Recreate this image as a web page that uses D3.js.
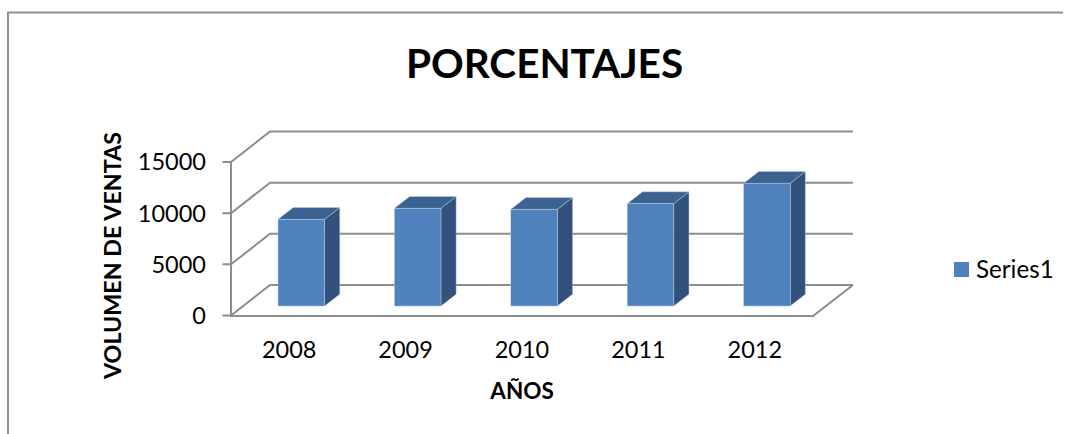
<!DOCTYPE html>
<html><head><meta charset="utf-8">
<script src="https://cdn.jsdelivr.net/npm/d3@7"></script>
<style>html,body{margin:0;padding:0;background:#fff}svg{display:block}text{font-family:Lato,"Open Sans",sans-serif;fill:#000}</style>
</head><body><svg id="c" width="1065" height="434"></svg>
<script>
const categories = ["2008","2009","2010","2011","2012"];
const values = [8470, 9550, 9450, 10000, 11990];
const yTicks = [0, 5000, 10000, 15000];
const seriesName = "Series1";
const titleText = "PORCENTAJES", xTitle = "AÑOS", yTitle = "VOLUMEN DE VENTAS";

const svg = d3.select("#c");
const x = d3.scaleBand().domain(categories).range([231, 813]);
const y = d3.scaleLinear().domain([0, 15000]).range([315.5, 162]);
const DX = 39, DY = -30.5;           // full depth of the floor
const d0 = 0.31, d1 = 0.70;          // bar depth span, as fractions of the floor
const barW = x.bandwidth() * 0.4;
const gridColor = "#8c8c8c", frontColor = "#4f81bd", topColor = "#3c6292", sideColor = "#32527c";
const line = d3.line();

// frame
svg.append("path").attr("d", line([[8, 434], [8, 12.5], [1063, 12.5]]))
  .attr("fill", "none").attr("stroke", "#8f8f8f").attr("stroke-width", 2);

// wall gridlines, side wall and floor
const g = svg.append("g").attr("fill", "none").attr("stroke", gridColor).attr("stroke-width", 2);
const xL = x.range()[0], xR = x.range()[1];
yTicks.forEach(t => {
  g.append("path").attr("d", line([[xL - 8.5, y(t)], [xL, y(t)], [xL + DX, y(t) + DY], [xR + DX + 1, y(t) + DY]]));
});
g.append("path").attr("d", line([[xL, y(15000)], [xL, y(0) + 0.5], [xR, y(0) + 0.5], [xR + DX + 1, y(0) + DY]]));

// bars
const bars = svg.append("g").selectAll("g").data(categories.map((c, i) => ({c, v: values[i]}))).join("g");
const fx = d => x(d.c) + x.bandwidth() / 2 - barW / 2 + DX * d0;
const by = d0 * DY;
const bdx = DX * (d1 - d0), bdy = DY * (d1 - d0);
const base = y(0) + by, h = d => y(0) - y(d.v);
bars.append("path").attr("fill", sideColor).attr("stroke", "#c9d6e6").attr("stroke-width", .4)
  .attr("d", d => { const l = fx(d) + barW, t = base - h(d);
    return line([[l, base], [l + bdx, base + bdy], [l + bdx, t + bdy], [l, t]]) + "Z"; });
bars.append("path").attr("fill", topColor).attr("stroke", "#c9d6e6").attr("stroke-width", .4)
  .attr("d", d => { const l = fx(d), t = base - h(d);
    return line([[l, t], [l + bdx, t + bdy], [l + barW + bdx, t + bdy], [l + barW, t]]) + "Z"; });
bars.append("rect").attr("fill", frontColor).attr("stroke", "#c9d6e6").attr("stroke-width", .4)
  .attr("x", fx).attr("y", d => base - h(d)).attr("width", barW).attr("height", h);

// axis labels
svg.append("g").selectAll("text").data(yTicks).join("text")
  .attr("x", 206).attr("y", d => y(d)).attr("dy", "0.36em").attr("text-anchor", "end")
  .attr("font-size", 23.5).text(d => d);
svg.append("g").selectAll("text").data(categories).join("text")
  .attr("x", d => x(d) + x.bandwidth() / 2).attr("y", 350).attr("dy", "0.36em").attr("text-anchor", "middle")
  .attr("font-size", 23.5).text(d => d);

// titles
svg.append("text").attr("x", 544.5).attr("y", 63).attr("dy", "0.36em").attr("text-anchor", "middle")
  .attr("font-size", 40.5).attr("font-weight", 700).text(titleText);
svg.append("text").attr("x", 522).attr("y", 391).attr("dy", "0.36em").attr("text-anchor", "middle")
  .attr("font-size", 22.5).attr("font-weight", 700).text(xTitle);
svg.append("text").attr("transform", "translate(113,255.5) rotate(-90)").attr("dy", "0.36em").attr("text-anchor", "middle")
  .attr("font-size", 23.3).attr("font-weight", 700).text(yTitle);

// legend
svg.append("rect").attr("x", 954).attr("y", 262).attr("width", 15).attr("height", 15).attr("fill", frontColor);
svg.append("text").attr("x", 976).attr("y", 269.5).attr("dy", "0.36em").attr("font-size", 24.2).text(seriesName);
</script></body></html>
